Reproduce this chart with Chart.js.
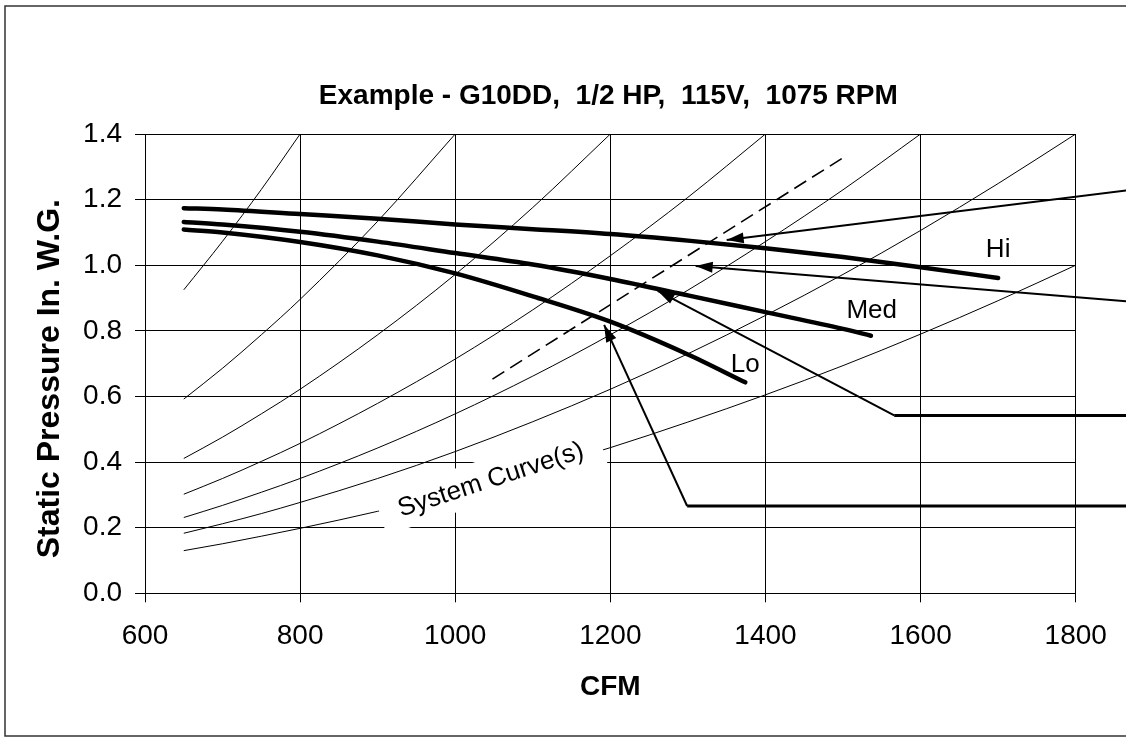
<!DOCTYPE html>
<html>
<head>
<meta charset="utf-8">
<title>G10DD fan curve</title>
<script src="https://cdn.jsdelivr.net/npm/chart.js@4.4.1/dist/chart.umd.min.js"></script>
<style>
  html, body { margin: 0; padding: 0; background: #fff; }
  #wrap { width: 1126px; height: 738px; }
</style>
</head>
<body>
<div id="wrap"><canvas id="myChart" width="1126" height="738"></canvas></div>
<script>

var chartTitle = 'Example - G10DD,  1/2 HP,  115V,  1075 RPM';
var xTitle = 'CFM';
var yTitle = 'Static Pressure In. W.G.';

// fan curves (thick)
var hiCfm = [650, 700, 800, 900, 1000, 1100, 1200, 1300, 1400, 1500, 1600, 1700];
var hiSp = [1.174, 1.170, 1.156, 1.142, 1.124, 1.110, 1.095, 1.075, 1.052, 1.025, 0.994, 0.961];

var medCfm = [650, 700, 800, 900, 1000, 1100, 1200, 1300, 1400, 1500, 1536];
var medSp = [1.132, 1.124, 1.102, 1.072, 1.037, 1.002, 0.958, 0.908, 0.857, 0.806, 0.785];

var loCfm = [650, 700, 800, 900, 1000, 1100, 1200, 1300, 1374];
var loSp = [1.109, 1.100, 1.071, 1.030, 0.975, 0.905, 0.828, 0.728, 0.643];

// system curves (thin)
var sysCfm = [650, 700, 750, 800, 900, 1000, 1100, 1200, 1300, 1400, 1500, 1600, 1700, 1800];
var sys1 = [0.925, 1.073, 1.231, 1.40];
var sys2 = [0.592, 0.686, 0.788, 0.896, 1.134, 1.40];
var sys3 = [0.411, 0.476, 0.547, 0.622, 0.788, 0.972, 1.176, 1.40];
var sys4 = [0.302, 0.350, 0.402, 0.457, 0.579, 0.714, 0.864, 1.029, 1.207, 1.40];
var sys5 = [0.231, 0.268, 0.308, 0.350, 0.443, 0.547, 0.662, 0.788, 0.924, 1.072, 1.230, 1.40];
var sys6 = [0.183, 0.212, 0.243, 0.277, 0.350, 0.432, 0.523, 0.622, 0.730, 0.847, 0.972, 1.106, 1.249, 1.40];
var sys7 = [0.130, 0.151, 0.174, 0.198, 0.250, 0.309, 0.373, 0.444, 0.522, 0.605, 0.694, 0.790, 0.892, 1.000];

// dashed operating line
var dashCfm = [1048, 1503];
var dashSp = [0.653, 1.332];

// arrows, start -> tip
var arrow1Cfm = [1870, 1350];
var arrow1Sp = [1.229, 1.077];
var arrow2Cfm = [1870, 1310];
var arrow2Sp = [0.889, 0.998];
var arrow3Cfm = [1870, 1566, 1261];
var arrow3Sp = [0.542, 0.542, 0.922];
var arrow4Cfm = [1870, 1299, 1192];
var arrow4Sp = [0.266, 0.266, 0.818];

// curve names
var curveNames = ['Hi', 'Med', 'Lo'];
var nameCfm = [1700, 1537, 1374];
var nameSp = [1.048, 0.862, 0.697];

var sysLabel = 'System Curve(s)';
var sysLabelCfm = 1046;
var sysLabelSp = 0.345;

var xTicks = [600, 800, 1000, 1200, 1400, 1600, 1800];
var yTicks = [0, 0.2, 0.4, 0.6, 0.8, 1.0, 1.2, 1.4];

var fontFamily = '"Liberation Sans", Arial, Helvetica, sans-serif';

function pts(xs, ys) {
    var out = [];
    for (var i = 0; i < ys.length; i++) {
        if (ys[i] !== null) out.push({ x: xs[i], y: ys[i] });
    }
    return out;
}

function thick(d) {
    return { data: d, borderColor: '#000', borderWidth: 4.5, borderCapStyle: 'round', cubicInterpolationMode: 'monotone', pointRadius: 0 };
}

function thin(d) {
    return { data: d, borderColor: '#000', borderWidth: 1, cubicInterpolationMode: 'monotone', pointRadius: 0 };
}

function arrowLine(d, w, head) {
    return { data: d, borderColor: '#000', borderWidth: w, pointRadius: 0, tension: 0, clip: false, arrow: head };
}

var datasets = [
    thick(pts(hiCfm, hiSp)),
    thick(pts(medCfm, medSp)),
    thick(pts(loCfm, loSp)),
    thin(pts(sysCfm, sys1)),
    thin(pts(sysCfm, sys2)),
    thin(pts(sysCfm, sys3)),
    thin(pts(sysCfm, sys4)),
    thin(pts(sysCfm, sys5)),
    thin(pts(sysCfm, sys6)),
    thin(pts(sysCfm, sys7)),
    { data: pts(dashCfm, dashSp), borderColor: '#000', borderWidth: 1.6, borderDash: [14, 7], pointRadius: 0 },
    arrowLine(pts(arrow1Cfm, arrow1Sp), 2, true),
    arrowLine(pts(arrow2Cfm, arrow2Sp), 2, true),
    arrowLine(pts(arrow3Cfm.slice(0, 2), arrow3Sp.slice(0, 2)), 3, false),
    arrowLine(pts(arrow3Cfm.slice(1), arrow3Sp.slice(1)), 2, true),
    arrowLine(pts(arrow4Cfm.slice(0, 2), arrow4Sp.slice(0, 2)), 3, false),
    arrowLine(pts(arrow4Cfm.slice(1), arrow4Sp.slice(1)), 2, true)
];

var extras = {
    id: 'extras',
    beforeDraw: function (chart) {
        var ctx = chart.ctx;
        ctx.save();
        ctx.fillStyle = '#fff';
        ctx.fillRect(0, 0, chart.width, chart.height);
        ctx.restore();
    },
    afterDatasetsDraw: function (chart) {
        var ctx = chart.ctx;
        var sx = chart.scales.x, sy = chart.scales.y;
        ctx.save();

        chart.data.datasets.forEach(function (ds, i) {
            if (!ds.arrow) return;
            var p = chart.getDatasetMeta(i).data;
            var a = p[p.length - 2], b = p[p.length - 1];
            var ang = Math.atan2(b.y - a.y, b.x - a.x);
            ctx.save();
            ctx.translate(b.x, b.y);
            ctx.rotate(ang);
            ctx.beginPath();
            ctx.moveTo(0, 0);
            ctx.lineTo(-17, -5.5);
            ctx.lineTo(-17, 5.5);
            ctx.closePath();
            ctx.fillStyle = '#000';
            ctx.fill();
            ctx.restore();
        });

        ctx.fillStyle = '#000';
        ctx.font = '26px ' + fontFamily;
        ctx.textAlign = 'center';
        ctx.textBaseline = 'middle';
        for (var k = 0; k < curveNames.length; k++) {
            ctx.fillText(curveNames[k], sx.getPixelForValue(nameCfm[k]), sy.getPixelForValue(nameSp[k]));
        }

        // label sits on a white patch that breaks the grid and the lowest curve
        ctx.translate(sx.getPixelForValue(sysLabelCfm), sy.getPixelForValue(sysLabelSp));
        ctx.rotate(-18 * Math.PI / 180);
        ctx.fillStyle = '#fff';
        ctx.fillRect(-116, -22, 232, 42);
        ctx.fillStyle = '#000';
        ctx.font = '26px ' + fontFamily;
        ctx.fillText(sysLabel, 0, 0);
        ctx.restore();
    },
    afterDraw: function (chart) {
        var ctx = chart.ctx;
        var area = chart.chartArea;
        ctx.save();
        ctx.fillStyle = '#000';
        ctx.textAlign = 'center';
        ctx.textBaseline = 'middle';
        ctx.font = 'bold 28px ' + fontFamily;
        ctx.fillText(chartTitle, (area.left + area.right) / 2 - 2, area.top - 38);

        ctx.translate(area.left - 95, (area.top + area.bottom) / 2 + 15);
        ctx.rotate(-Math.PI / 2);
        ctx.font = 'bold 32px ' + fontFamily;
        ctx.fillText(yTitle, 0, 0);
        ctx.restore();

        ctx.save();
        ctx.strokeStyle = '#333';
        ctx.lineWidth = 1.5;
        ctx.strokeRect(5, 6, 1200, 730);
        ctx.restore();
    }
};

Chart.defaults.color = '#000';
Chart.defaults.font.family = fontFamily;

var ctx = document.getElementById('myChart').getContext('2d');

window.myChart = new Chart(ctx, {
    type: 'line',
    data: { datasets: datasets },
    plugins: [extras],
    options: {
        responsive: false,
        animation: false,
        events: [],
        layout: { padding: { top: 134, right: 50.3, left: 0, bottom: 0 } },
        plugins: {
            legend: { display: false },
            tooltip: { enabled: false },
            title: { display: false }
        },
        scales: {
            x: {
                type: 'linear',
                min: xTicks[0],
                max: xTicks[xTicks.length - 1],
                afterFit: function (s) { s.height = 144.7; },
                afterBuildTicks: function (s) { s.ticks = xTicks.map(function (v) { return { value: v }; }); },
                ticks: {
                    font: { size: 28 },
                    padding: 17,
                    maxRotation: 0,
                    autoSkip: false,
                    callback: function (v) { return String(v); }
                },
                grid: { color: '#000', lineWidth: 1, tickLength: 9 },
                border: { color: '#000', width: 1 },
                title: { display: true, text: xTitle, font: { size: 28, weight: 'bold' }, padding: { top: 0, bottom: 34 } }
            },
            y: {
                type: 'linear',
                min: yTicks[0],
                max: yTicks[yTicks.length - 1],
                afterFit: function (s) { s.width = 145; },
                afterBuildTicks: function (s) { s.ticks = yTicks.map(function (v) { return { value: v }; }); },
                ticks: {
                    font: { size: 28 },
                    padding: 13,
                    callback: function (v) { return Number(v).toFixed(1); }
                },
                grid: { color: '#000', lineWidth: 1, tickLength: 10 },
                border: { color: '#000', width: 1 }
            }
        }
    }
});

</script>
</body>
</html>
